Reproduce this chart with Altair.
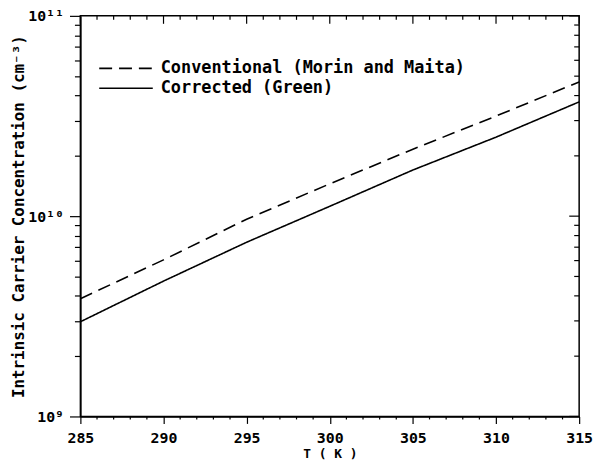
import altair as alt
import pandas as pd

# ---- data ----
T = [285, 290, 295, 300, 305, 310, 315]
conventional = [3.87e9, 6.05e9, 9.66e9, 1.45e10, 2.16e10, 3.16e10, 4.68e10]
corrected = [2.97e9, 4.74e9, 7.41e9, 1.12e10, 1.70e10, 2.48e10, 3.72e10]
series_names = ["Conventional (Morin and Maita)", "Corrected (Green)"]

x_major = [285, 290, 295, 300, 305, 310, 315]
x_major_labels = ["285", "290", "295", "300", "305", "310", "315"]
x_minor = [t for t in range(285, 316) if t not in x_major]
y_major = [1e9, 1e10, 1e11]
y_major_labels = ["10⁹", "10¹⁰", "10¹¹"]
y_minor = [m * 10 ** e for e in (9, 10) for m in range(2, 10)]

x_title = "T ( K )"
y_title = "Intrinsic Carrier Concentration (cm⁻³)"

W, H = 503, 404
FONT = "DejaVu Sans Mono"

df = pd.DataFrame({
    "T": T * 2,
    "n": conventional + corrected,
    "series": [series_names[0]] * len(T) + [series_names[1]] * len(T),
})

xscale = alt.Scale(domain=[x_major[0], x_major[-1]], nice=False, zero=False)
yscale = alt.Scale(type="log", domain=[y_major[0], y_major[-1]], nice=False)

x_label_expr = " : ".join(
    f"datum.value == {v} ? '{l}'" for v, l in zip(x_major, x_major_labels)
) + " : ''"
y_label_expr = " : ".join(
    f"datum.value == {v:.0e} ? '{l}'" for v, l in zip(y_major, y_major_labels)
) + " : ''"
y_major_test = "datum.value == 1e9 || datum.value == 1e10 || datum.value == 1e11"

lines = alt.Chart(df).mark_line(color="black", strokeWidth=1.6).encode(
    x=alt.X("T:Q", scale=xscale, axis=alt.Axis(
        values=x_major, labelExpr=x_label_expr, title=x_title,
        tickSize=7, labelPadding=7, titlePadding=2, grid=False,
        labelFont=FONT, labelFontSize=15, labelFontWeight="bold",
        titleFont=FONT, titleFontSize=13, titleFontWeight="bold",
        labelOverlap=False, labelFlush=False,
    )),
    y=alt.Y("n:Q", scale=yscale, axis=alt.Axis(
        values=y_major + y_minor, labelExpr=y_label_expr, title=y_title,
        tickSize={"condition": {"test": y_major_test, "value": 11}, "value": 6},
        labelPadding=6, titlePadding=1, grid=False,
        labelFont=FONT, labelFontSize=15, labelFontWeight="bold",
        titleFont=FONT, titleFontSize=16, titleFontWeight="bold",
        labelOverlap=False, labelFlush=False,
    )),
    strokeDash=alt.StrokeDash("series:N", scale=alt.Scale(
        domain=series_names, range=[[13, 7], [1, 0]]),
        legend=alt.Legend(
            title=None, orient="none", legendX=36, legendY=43,
            symbolType="M-3,0H3", symbolSize=324, symbolStrokeWidth=1.6,
            symbolStrokeColor="black",
            labelFont=FONT, labelFontSize=17, labelFontWeight="bold",
            labelOffset=25, rowPadding=2, labelLimit=420,
        )),
)

rule = dict(color="black", strokeWidth=1.2)
top_minor = alt.Chart(pd.DataFrame({"t": x_minor})).mark_rule(**rule).encode(
    x=alt.X("t:Q", scale=xscale), y=alt.value(0), y2=alt.value(4))
top_major = alt.Chart(pd.DataFrame({"t": x_major})).mark_rule(**rule).encode(
    x=alt.X("t:Q", scale=xscale), y=alt.value(0), y2=alt.value(8))
bottom_minor = alt.Chart(pd.DataFrame({"t": x_minor})).mark_rule(**rule).encode(
    x=alt.X("t:Q", scale=xscale), y=alt.value(H), y2=alt.value(H + 3))
right_minor = alt.Chart(pd.DataFrame({"v": y_minor})).mark_rule(**rule).encode(
    y=alt.Y("v:Q", scale=yscale), x=alt.value(W - 5), x2=alt.value(W))
right_major = alt.Chart(pd.DataFrame({"v": y_major})).mark_rule(**rule).encode(
    y=alt.Y("v:Q", scale=yscale), x=alt.value(W - 10), x2=alt.value(W))

chart = alt.layer(lines, top_minor, top_major, bottom_minor, right_minor, right_major).properties(
    width=W, height=H,
    autosize=alt.AutoSizeParams(type="none"),
    padding={"left": 73, "top": 6, "right": 18, "bottom": 44},
).configure_view(stroke="black", strokeWidth=1.5).configure_axis(
    domainColor="black", domainWidth=1.5, tickColor="black", tickWidth=1.2,
    labelColor="black", titleColor="black",
).configure_legend(labelColor="black")

chart.save("out.html", embed_options={"renderer": "svg", "actions": False})
